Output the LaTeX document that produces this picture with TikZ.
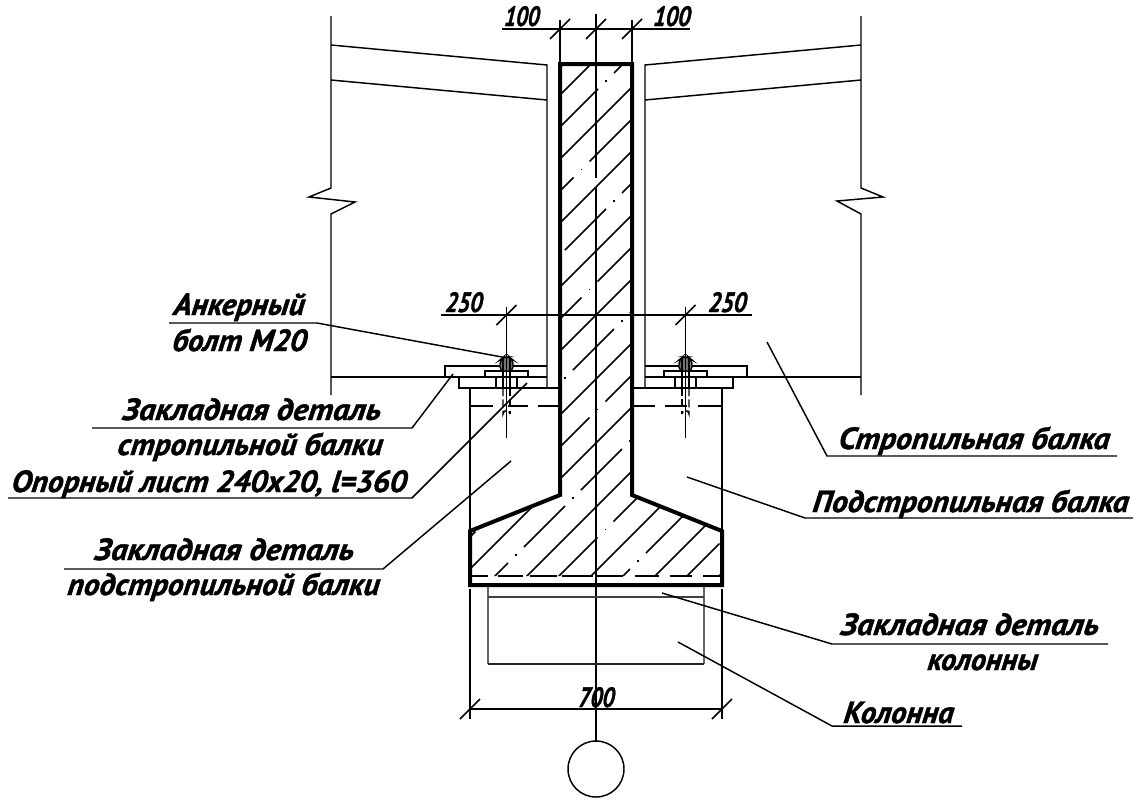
\documentclass[tikz,border=0pt]{standalone}
\usepackage{fontspec}
\usepackage{graphicx}
\newfontfamily\lblfont{PT Sans}[BoldItalicFeatures={FakeBold=1.3,FakeSlant=0.1}]
\newcommand{\lbl}[5][23pt]{\node[lab,font=\lblfont\fontsize{#1}{#1}\selectfont\bfseries\itshape] at (#2,#3) {\resizebox{\dimexpr #4pt*3/4\relax}{\height}{#5}};}
\tikzset{
  lab/.style={anchor=base west,inner sep=0pt,outer sep=0pt},
  thin line/.style={line width=1.1pt},
  thick line/.style={line width=3pt,line join=miter},
  tick/.style={line width=1.1pt},
  hatchline/.style={line width=1.1pt},
}
\begin{document}
\begin{tikzpicture}[x=0.75pt,y=-0.75pt]
\useasboundingbox (0,0) rectangle (1141,808);
\fill[white] (0,0) rectangle (1141,808);

% hatch of the beam section
\begin{scope}
\clip (560,64) -- (632,64) -- (632,495) -- (722,531) -- (722,576) -- (470,576) -- (470,531) -- (560,495) -- cycle;
\foreach \m in {0,...,10}{
  \pgfmathsetmacro{\cc}{655+64*\m}
  \draw[hatchline] (400,\cc-400) -- (800,\cc-800);
}
\foreach \k in {0,...,9}{
  \foreach \n in {-8,...,3}{
    \pgfmathsetmacro{\cc}{687+64*\k}
    \pgfmathsetmacro{\xa}{606+32.5*\k+57*\n}
    \pgfmathsetmacro{\xb}{\xa+8}
    \pgfmathsetmacro{\xc}{\xa+49}
    \draw[hatchline] (\xb,\cc-\xb) -- (\xc,\cc-\xc);
    \fill (\xa-0.8,\cc-\xa-0.8) rectangle (\xa+0.8,\cc-\xa+0.8);
  }
}
\end{scope}

% beam outline
\draw[thick line] (560,495) -- (560,64) -- (632,64) -- (632,495) -- (722,531) -- (722,585) -- (470,585) -- (470,531) -- cycle;

% dashed line in the lower flange
\foreach \a/\b in {472/488,498/523,530/557,562/593,597/623,635/659,670/692,703/720}
  \draw[thin line] (\a,576) -- (\b,576);

% centre line
\draw[thin line] (596,14) -- (596,178);
\draw[thin line] (596,187) -- (596,741);
\draw[thin line] (596,769) circle (28);

% rafter beam contours
\draw[thin line] (331,16) -- (331,188) -- (309,197) -- (355,202) -- (331,214) -- (331,395);
\draw[thin line] (861,16) -- (861,188) -- (883,197) -- (837,201) -- (861,214) -- (861,395);
\draw[thin line] (331,45) -- (547,65) -- (547,388);
\draw[thin line] (331,80) -- (547,100);
\draw[thin line] (861,45) -- (645,65) -- (645,388);
\draw[thin line] (861,80) -- (645,100);
\draw[line width=1.4pt] (331,377) -- (547,377);
\draw[line width=1.4pt] (645,377) -- (861,377);

% plates
\foreach \s/\c in {1/506.5,-1/685.5}{
  \begin{scope}[shift={(\c,0)},x={(\s*0.75pt,0)}]
    \draw[thin line] (-61.5,377) -- (-61.5,366) -- (40.5,366);
    \draw[line width=1.4pt] (-47.5,377) -- (-47.5,388) -- (53.5,388);
    \draw[thin line] (-21.5,377) -- (-21.5,371) -- (21.5,371) -- (21.5,377);
    \draw[thin line] (-10.5,377) -- (-10.5,388);
    \draw[thin line] (10.5,377) -- (10.5,388);
    \draw[thin line] (-36.5,388) -- (-36.5,585);
    % nut
    \draw[line width=1.1pt,fill=black!55,rounded corners=3pt] (-6.5,371) -- (-6.5,360) -- (-3,357) -- (3,357) -- (6.5,360) -- (6.5,371) -- cycle;
    \draw[line width=1.2pt] (-3.5,358) -- (-3.5,371);
    \draw[line width=1.2pt] (0,357) -- (0,371);
    \draw[line width=1.2pt] (3.5,358) -- (3.5,371);
    % shank
    \draw[thin line] (-3.5,371) -- (-3.5,388);
    \draw[thin line] (3.5,371) -- (3.5,388);
    \draw[thin line,dash pattern=on 6pt off 2.5pt] (-3.5,388) -- (-3.5,414) arc[start angle=180,end angle=360,radius=3.5];
    \draw[thin line,dash pattern=on 6pt off 2.5pt] (3.5,388) -- (3.5,414);
    % axis
    \draw[thin line] (0,307) -- (0,438);
  \end{scope}
}
% dashed line under plates
\foreach \a/\b in {470/493,508/528,538/558,633/655,665/687,698/722}
  \draw[thin line] (\a,406) -- (\b,406);

% column
\draw[thin line,draw=black!60] (488,587) -- (488,664);
\draw[thin line,draw=black!60] (704,587) -- (704,664);
\draw[thin line,draw=black!85] (488,664) -- (704,664);
\draw[thin line,draw=black!75] (488,597) -- (704,597);

% dimensions
\draw[thin line] (502,29) -- (690,29);
\draw[thin line] (560,20) -- (560,62);
\draw[thin line] (632,20) -- (632,62);
\foreach \x in {560,596,632} \draw[tick] (\x-10,39) -- (\x+10,19);

\draw[thin line] (441,315) -- (752,315);
\foreach \x in {506.5,685.5} \draw[tick] (\x-10,325) -- (\x+10,305);

\draw[thin line] (470,709) -- (722,709);
\draw[thin line] (470,589) -- (470,719);
\draw[thin line] (722,589) -- (722,719);
\foreach \x in {470,722} \draw[tick] (\x-10,719) -- (\x+10,699);

% leaders
\draw[thin line] (169,323) -- (317,323) -- (502,357);
\draw[thin line] (92,428) -- (412,428) -- (453,374);
\draw[thin line] (8,498) -- (412,498) -- (527,383);
\draw[thin line] (64,569) -- (383,569) -- (511,461);
\draw[thin line] (767,342) -- (827,456) -- (1117,456);
\draw[thin line] (687,477) -- (805,518) -- (1133,518);
\draw[thin line] (662,593) -- (832,644) -- (1108,644);
\draw[thin line] (678,642) -- (832,726) -- (962,726);

% labels
\lbl[21pt]{504}{26}{35}{100}
\lbl[21pt]{653}{26}{37}{100}
\lbl[21pt]{445}{312}{37}{250}
\lbl[21pt]{708}{312}{38}{250}
\lbl[21pt]{578}{707}{36}{700}
\lbl{173}{315}{131}{Анкерный}
\lbl{172}{351}{134}{болт М20}
\lbl{122}{420}{258}{Закладная деталь}
\lbl{117}{455}{265}{стропильной балки}
\lbl{11}{492}{395}{Опорный лист 240x20, l=360}
\lbl{94}{560}{259}{Закладная деталь}
\lbl{67}{595}{312}{подстропильной балки}
\lbl{838}{449}{271}{Стропильная балка}
\lbl{812}{512}{316}{Подстропильная балка}
\lbl{840}{635}{258}{Закладная деталь}
\lbl{927}{670}{110}{колонны}
\lbl{843}{723}{110}{Колонна}
\end{tikzpicture}
\end{document}
